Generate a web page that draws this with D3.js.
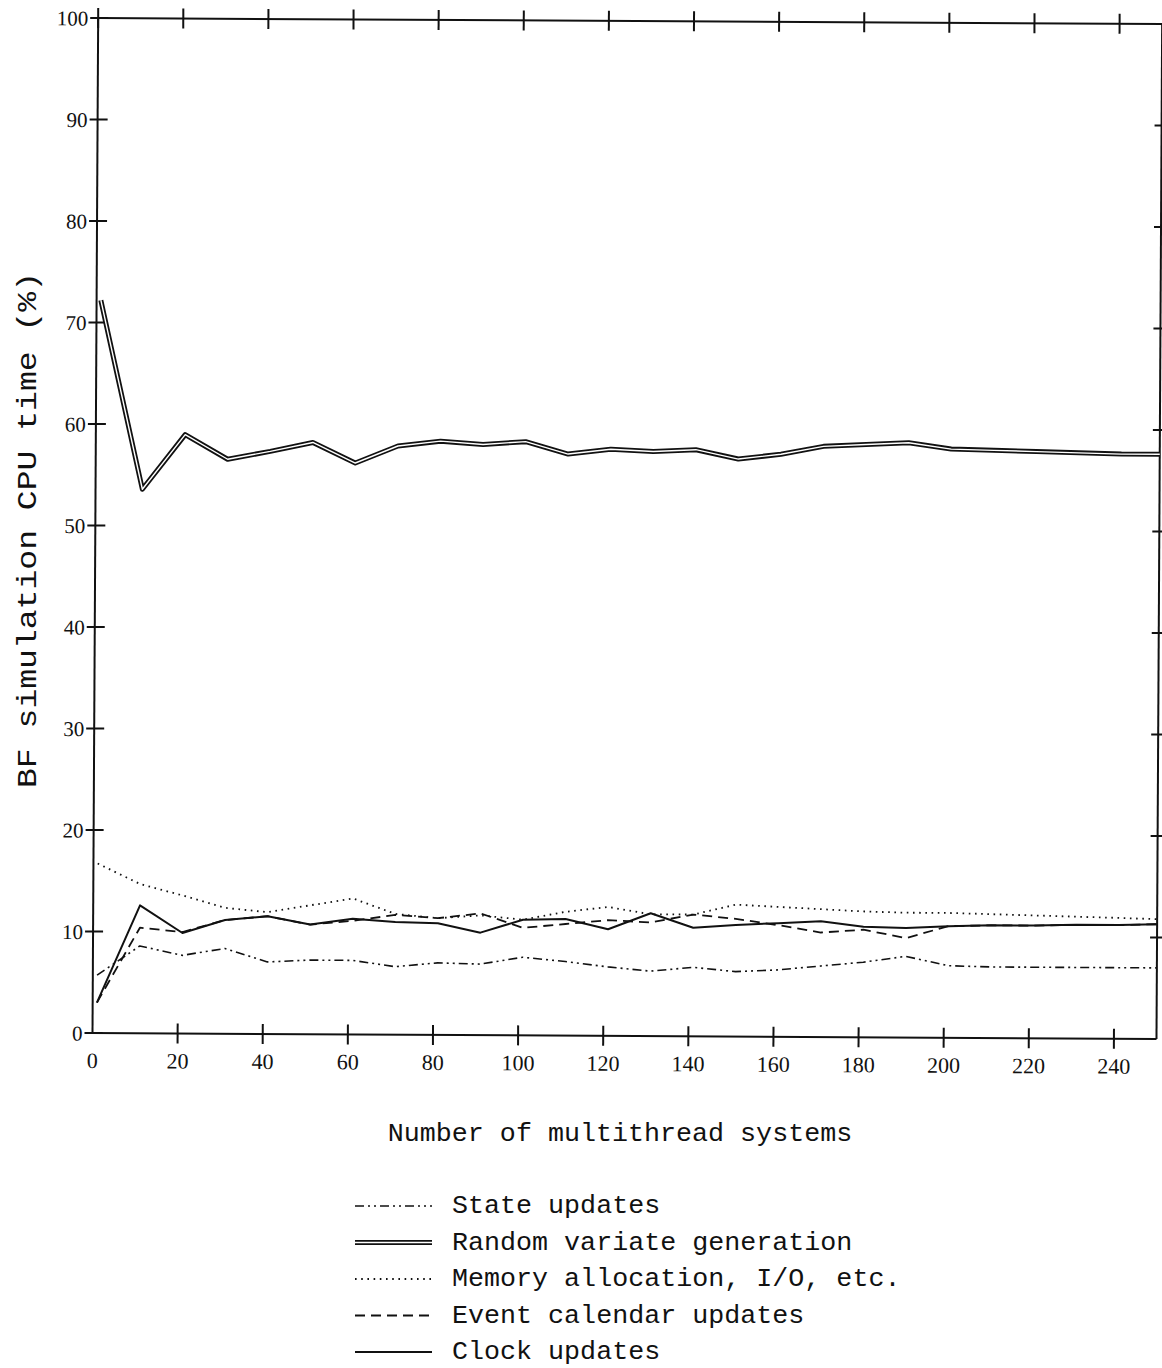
<!DOCTYPE html>
<html>
<head>
<meta charset="utf-8">
<script src="https://cdn.jsdelivr.net/npm/d3@7"></script>
<style>
html,body{margin:0;padding:0;background:#fff;}
svg{display:block;}
</style>
</head>
<body>
<svg id="chart" width="1162" height="1368"></svg>
<script>
// ---- data ----
const systems = [1, 11, 21, 31, 41, 51, 61, 71, 81, 91, 101, 111, 121, 131, 141, 151, 161, 171, 181, 191, 201, 211, 221, 231, 241, 250];
const stateUpdates = [5.7, 8.6, 7.7, 8.4, 7.1, 7.3, 7.3, 6.7, 7.1, 7.0, 7.7, 7.3, 6.8, 6.4, 6.8, 6.4, 6.6, 7.0, 7.4, 8.0, 7.1, 7.0, 7.0, 7.0, 7.0, 7.0];
const randomVariate = [72.2, 53.6, 59.0, 56.6, 57.4, 58.3, 56.3, 58.0, 58.5, 58.2, 58.5, 57.3, 57.8, 57.6, 57.8, 56.9, 57.4, 58.2, 58.4, 58.6, 58.0, 57.9, 57.8, 57.7, 57.6, 57.6];
const memoryIO = [16.7, 14.7, 13.6, 12.4, 12.0, 12.7, 13.4, 11.9, 11.5, 11.8, 11.4, 12.2, 12.7, 12.0, 12.0, 13.0, 12.8, 12.6, 12.4, 12.3, 12.3, 12.2, 12.1, 12.0, 11.9, 11.8];
const eventCalendar = [3.0, 10.4, 10.0, 11.2, 11.6, 10.8, 11.2, 11.8, 11.5, 12.0, 10.6, 11.0, 11.4, 11.2, 12.0, 11.6, 11.0, 10.3, 10.6, 9.8, 11.0, 11.1, 11.1, 11.2, 11.2, 11.3];
const clockUpdates = [3.0, 12.6, 9.9, 11.2, 11.6, 10.8, 11.4, 11.1, 11.0, 10.1, 11.4, 11.5, 10.5, 12.1, 10.7, 11.0, 11.2, 11.4, 10.9, 10.8, 11.0, 11.1, 11.1, 11.2, 11.2, 11.3];
const seriesNames = ["State updates", "Random variate generation", "Memory allocation, I/O, etc.", "Event calendar updates", "Clock updates"];
const xTicks = [0, 20, 40, 60, 80, 100, 120, 140, 160, 180, 200, 220, 240];
const yTicks = [0, 10, 20, 30, 40, 50, 60, 70, 80, 90, 100];
const xTitle = "Number of multithread systems";
const yTitle = "BF simulation CPU time (%)";

// ---- drawing ----
const svg = d3.select("#chart");
const mono = "'Liberation Mono', 'Courier New', monospace";
const serif = "'Liberation Serif', 'Times New Roman', serif";

const x = d3.scaleLinear().domain([0, 250]).range([0, 1064]);
const y = d3.scaleLinear().domain([0, 100]).range([0, -1015]);

// the scanned figure is very slightly rotated
const g = svg.append("g").attr("transform", "translate(92.5,1033) rotate(0.32)");

const ink = "#111";
// frame
g.append("line").attr("x1", x(0)).attr("x2", x(0)).attr("y1", y(0)).attr("y2", y(100)).attr("stroke", ink).attr("stroke-width", 2);
g.append("line").attr("x1", x(0)).attr("x2", x(250)).attr("y1", y(0)).attr("y2", y(0)).attr("stroke", ink).attr("stroke-width", 2);
g.append("line").attr("x1", x(0)).attr("x2", x(250)).attr("y1", y(100)).attr("y2", y(100)).attr("stroke", ink).attr("stroke-width", 2);
g.append("line").attr("x1", x(250)).attr("x2", x(250)).attr("y1", y(0)).attr("y2", y(100)).attr("stroke", ink).attr("stroke-width", 2);

// left ticks
g.selectAll(".ly").data(yTicks).enter().append("line")
  .attr("x1", -8).attr("x2", 10).attr("y1", d => y(d)).attr("y2", d => y(d))
  .attr("stroke", ink).attr("stroke-width", 2);
g.selectAll(".lyt").data(yTicks).enter().append("text")
  .attr("x", -10).attr("y", d => y(d)).attr("dy", "0.36em")
  .attr("text-anchor", "end").attr("font-family", serif).attr("font-size", 21).attr("fill", ink)
  .text(d => d);
// right ticks
g.selectAll(".ry").data(yTicks.filter(d => d > 0 && d < 100)).enter().append("line")
  .attr("x1", x(250) - 7).attr("x2", x(250) + 7).attr("y1", d => y(d)).attr("y2", d => y(d))
  .attr("stroke", ink).attr("stroke-width", 2);
// bottom ticks
g.selectAll(".bx").data(xTicks.filter(d => d > 0)).enter().append("line")
  .attr("x1", d => x(d)).attr("x2", d => x(d)).attr("y1", -10).attr("y2", 10)
  .attr("stroke", ink).attr("stroke-width", 2);
g.selectAll(".bxt").data(xTicks).enter().append("text")
  .attr("x", d => x(d)).attr("y", 35)
  .attr("text-anchor", "middle").attr("font-family", serif).attr("font-size", 22).attr("fill", ink)
  .text(d => d);
// top ticks
g.selectAll(".tx").data(xTicks).enter().append("line")
  .attr("x1", d => x(d)).attr("x2", d => x(d)).attr("y1", y(100) - 10).attr("y2", y(100) + 10)
  .attr("stroke", ink).attr("stroke-width", 2);

// series
const line = d3.line().x(d => x(d[0])).y(d => y(d[1]));
const pts = arr => systems.map((s, i) => [s, arr[i]]);

const styles = [
  {data: stateUpdates, dash: "9,4,2,4,2,4", w: 1.6},
  {data: randomVariate, double: true},
  {data: memoryIO, dash: "1.6,4.6", w: 1.8},
  {data: eventCalendar, dash: "10,6", w: 1.8},
  {data: clockUpdates, dash: null, w: 2}
];

styles.forEach(s => {
  if (s.double) {
    g.append("path").attr("d", line(pts(s.data))).attr("fill", "none").attr("stroke", ink).attr("stroke-width", 5).attr("stroke-linejoin", "round");
    g.append("path").attr("d", line(pts(s.data))).attr("fill", "none").attr("stroke", "#fff").attr("stroke-width", 1.4).attr("stroke-linejoin", "round");
  } else {
    g.append("path").attr("d", line(pts(s.data))).attr("fill", "none").attr("stroke", ink)
      .attr("stroke-width", s.w).attr("stroke-dasharray", s.dash).attr("stroke-linejoin", "round");
  }
});

// axis titles
svg.append("text").attr("x", 620).attr("y", 1141).attr("text-anchor", "middle")
  .attr("font-family", mono).attr("font-size", 26.7).attr("fill", ink).text(xTitle);
svg.append("text").attr("transform", "translate(36,530) rotate(-90)").attr("text-anchor", "middle")
  .attr("font-family", mono).attr("font-size", 27).attr("fill", ink)
  .attr("textLength", 516).attr("lengthAdjust", "spacingAndGlyphs").text(yTitle);

// legend
const legend = svg.append("g").attr("transform", "translate(355,1206)");
const rowH = 36.5;
styles.forEach((s, i) => {
  const row = legend.append("g").attr("transform", `translate(0,${i * rowH})`);
  if (s.double) {
    row.append("line").attr("x1", 0).attr("x2", 77).attr("y1", 0).attr("y2", 0).attr("stroke", ink).attr("stroke-width", 5);
    row.append("line").attr("x1", 0).attr("x2", 77).attr("y1", 0).attr("y2", 0).attr("stroke", "#fff").attr("stroke-width", 1.4);
  } else {
    row.append("line").attr("x1", 0).attr("x2", 77).attr("y1", 0).attr("y2", 0).attr("stroke", ink)
      .attr("stroke-width", s.w).attr("stroke-dasharray", s.dash);
  }
  row.append("text").attr("x", 97).attr("y", 7).attr("font-family", mono).attr("font-size", 26.7).attr("fill", ink)
    .text(seriesNames[i]);
});
</script>
</body>
</html>
